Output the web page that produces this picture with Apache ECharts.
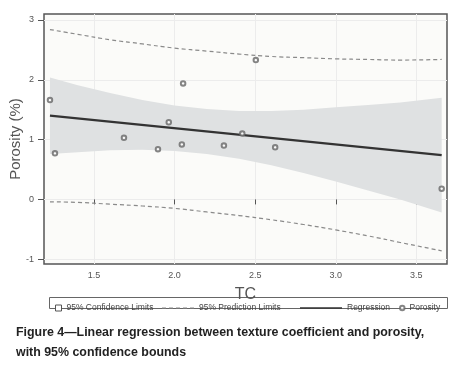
<!DOCTYPE html>
<html>
<head>
<meta charset="utf-8">
<script src="https://cdn.jsdelivr.net/npm/echarts@6/dist/echarts.min.js"></script>
<style>
  html, body { margin: 0; padding: 0; background: #fff; }
  #chart { width: 461px; height: 376px; }
</style>
</head>
<body>
<div id="chart"></div>
<script>
// observed points
const tcValues = [1.227, 1.258, 1.686, 1.897, 1.964, 2.053, 2.045, 2.306, 2.42, 2.504, 2.624, 3.657];
const porosityValues = [1.66, 0.77, 1.03, 0.84, 1.29, 1.94, 0.92, 0.90, 1.10, 2.33, 0.87, 0.18];

// fitted line end points
const regX = [1.227, 3.657];
const regY = [1.40, 0.74];

// bounds
const bandX = [1.227, 1.4, 1.6, 1.8, 2.0, 2.2, 2.4, 2.6, 2.8, 3.0, 3.2, 3.4, 3.657];
const ciUpper = [2.04, 1.91, 1.78, 1.66, 1.57, 1.51, 1.48, 1.48, 1.50, 1.54, 1.58, 1.62, 1.70];
const ciLower = [0.76, 0.79, 0.82, 0.83, 0.81, 0.76, 0.68, 0.57, 0.44, 0.30, 0.15, 0.00, -0.22];
const piUpper = [2.84, 2.76, 2.67, 2.60, 2.53, 2.48, 2.43, 2.39, 2.37, 2.35, 2.34, 2.33, 2.34];
const piLower = [-0.04, -0.05, -0.08, -0.11, -0.15, -0.21, -0.27, -0.34, -0.42, -0.51, -0.61, -0.72, -0.86];

const xTicks = [1.5, 2.0, 2.5, 3.0, 3.5];
const yTicks = [-1, 0, 1, 2, 3];

const pairs = (xs, ys) => xs.map((x, i) => [x, ys[i]]);

let myChart = echarts.init(document.getElementById('chart'));

const legendText = { fontSize: 8.5, color: '#444', fontFamily: 'Liberation Sans, Arial, sans-serif' };
const predLine = { color: '#8a8a8a', width: 1.2, type: [4, 3] };
const dashIcon = 'path://M0,0h4v1h-4zM7,0h4v1h-4zM14,0h4v1h-4zM21,0h4v1h-4zM28,0h4v1h-4z';

let option = {
  animation: false,
  backgroundColor: '#fff',
  textStyle: { fontFamily: 'Liberation Sans, Arial, sans-serif' },
  title: {
    text: 'Figure 4\u2014Linear regression between texture coefficient and porosity,\nwith 95% confidence bounds',
    left: 11,
    top: 318,
    textStyle: {
      fontSize: 12.4,
      fontWeight: 'bold',
      color: '#222',
      lineHeight: 20,
      fontFamily: 'Liberation Sans, Arial, sans-serif'
    }
  },
  grid: {
    left: 44, right: 14, top: 14, bottom: 112,
    outerBoundsMode: 'none',
    show: true,
    backgroundColor: '#fbfbf9',
    borderColor: '#555',
    borderWidth: 1.5
  },
  legend: [
    {
      left: 50, top: 298.5, itemWidth: 6, itemHeight: 6, itemGap: 4,
      textStyle: legendText,
      data: [{ name: '95% Confidence Limits', icon: 'rect', itemStyle: { color: '#fff', borderColor: '#555', borderWidth: 1 } }]
    },
    {
      left: 157, top: 298.5, itemWidth: 32, itemHeight: 1, itemGap: 6,
      textStyle: legendText,
      data: [{ name: '95% Prediction Limits', icon: dashIcon, itemStyle: { color: '#888' } }]
    },
    {
      left: 295, top: 298.5, itemWidth: 42, itemHeight: 1.3, itemGap: 4,
      textStyle: legendText,
      data: [{ name: 'Regression', icon: 'rect', itemStyle: { color: '#333' } }]
    },
    {
      left: 394, top: 298.5, itemWidth: 4.5, itemHeight: 4.5, itemGap: 4,
      textStyle: legendText,
      data: ['Porosity']
    }
  ],
  graphic: [
    {
      type: 'rect',
      shape: { x: 49.5, y: 297.5, width: 398, height: 11 },
      style: { fill: 'none', stroke: '#666', lineWidth: 1 },
      silent: true
    }
  ],
  xAxis: {
    type: 'value',
    min: 1.19,
    max: 3.69,
    name: 'TC',
    nameLocation: 'middle',
    nameGap: 23,
    nameMoveOverlap: false,
    nameTextStyle: { fontSize: 16, color: '#555' },
    axisLine: { show: false },
    axisTick: { show: true, length: 5, lineStyle: { color: '#555' }, customValues: xTicks },
    axisLabel: { fontSize: 9, color: '#555', margin: 7, customValues: xTicks, formatter: (v) => v.toFixed(1) },
    splitLine: { show: true, lineStyle: { color: '#ececec', width: 1 } }
  },
  yAxis: {
    type: 'value',
    min: -1.08,
    max: 3.1,
    name: 'Porosity (%)',
    nameLocation: 'middle',
    nameGap: 21,
    nameMoveOverlap: false,
    nameTextStyle: { fontSize: 15, color: '#555' },
    axisLine: { show: false },
    axisTick: { show: true, length: 6, lineStyle: { color: '#555' }, customValues: yTicks },
    axisLabel: { fontSize: 9, color: '#555', margin: 10, customValues: yTicks },
    splitLine: { show: true, lineStyle: { color: '#ececec', width: 1 } }
  },
  series: [
    {
      name: '95% Confidence Limits',
      type: 'custom',
      data: [[bandX[0], ciLower[0]]],
      renderItem: (params, api) => {
        let pts = [];
        bandX.forEach((x, i) => pts.push(api.coord([x, ciUpper[i]])));
        for (let i = bandX.length - 1; i >= 0; i--) pts.push(api.coord([bandX[i], ciLower[i]]));
        return { type: 'polygon', shape: { points: pts }, style: { fill: '#dfe1e2' } };
      },
      z: 1
    },
    {
      name: '95% Prediction Limits',
      type: 'line',
      data: pairs(bandX, piUpper),
      smooth: true,
      symbol: 'none',
      lineStyle: predLine,
      z: 2
    },
    {
      name: '95% Prediction Limits',
      type: 'line',
      data: pairs(bandX, piLower),
      smooth: true,
      symbol: 'none',
      lineStyle: predLine,
      z: 2
    },
    {
      name: 'Regression',
      type: 'line',
      data: pairs(regX, regY),
      symbol: 'none',
      lineStyle: { color: '#333', width: 2.2 },
      z: 3
    },
    {
      name: 'Porosity',
      type: 'scatter',
      data: pairs(tcValues, porosityValues),
      symbol: 'emptyCircle',
      symbolSize: 4.5,
      itemStyle: { color: '#666', borderColor: '#666', borderWidth: 1 },
      z: 4
    }
  ]
};

option && myChart.setOption(option);
</script>
</body>
</html>
